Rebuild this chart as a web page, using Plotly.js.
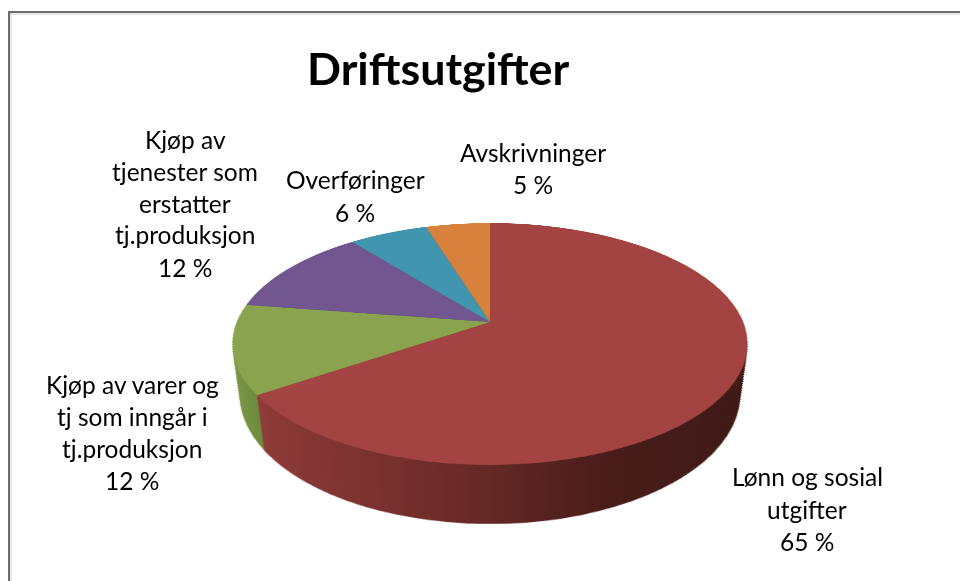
<!DOCTYPE html>
<html><head><meta charset="utf-8">
<script src="https://cdn.plot.ly/plotly-3.0.1.min.js"></script>
<style>html,body{margin:0;padding:0;background:#fff;overflow:hidden}
.svg-container,.main-svg{overflow:visible !important}</style></head>
<body><div id="chart" style="width:960px;height:581px"></div>
<script>
var titleText = 'Driftsutgifter';
var categories = ['Lønn og sosial utgifter','Kjøp av varer og tj som inngår i tj.produksjon','Kjøp av tjenester som erstatter tj.produksjon','Overføringer','Avskrivninger'];
var values = [65.5, 11.9, 11.9, 5.9, 4.8];
var colors = ['#A34442','#89A34E','#71568F','#4295AE','#D7813C'];
var labelLines = [
  ['Lønn og sosial','utgifter','65 %'],
  ['Kjøp av varer og','tj som inngår i','tj.produksjon','12 %'],
  ['Kjøp av','tjenester som','erstatter','tj.produksjon','12 %'],
  ['Overføringer','6 %'],
  ['Avskrivninger','5 %']
];
var W=960,H=581;
var labelX=[807,132,185,355,533], labelY=[477,384,139,180,152], lineStep=32;
// flat pie on the plotly page
var Cx=480,Cy=270,R=250;
// tilt: projective map of the pie plane onto the screen
var X0=490,Y0=322,c=-44/242,B=117,A=253.2;
var layers=60;
var dom={x:[(Cx-R)/W,(Cx+R)/W],y:[(H-Cy-R)/H,(H-Cy+R)/H]};
function pie(){return {type:'pie',values:values,labels:categories,sort:false,direction:'clockwise',rotation:0,
  textinfo:'none',hoverinfo:'label+percent',showlegend:false,domain:dom,marker:{colors:colors,line:{width:0}}};}
var traces=[];
for(var d=0;d<=layers;d++) traces.push(pie());
var ann=[];
labelLines.forEach(function(lines,i){lines.forEach(function(t,j){
  ann.push({xref:'paper',yref:'paper',x:labelX[i]/W,y:1-(labelY[i]+j*lineStep)/H,text:t,showarrow:false,xanchor:'center',yanchor:'middle',
    font:{family:'Lato, Carlito, sans-serif',size:24.5,color:'#000'}});
});});
ann.push({xref:'paper',yref:'paper',x:438/W,y:1-68/H,text:'<b>'+titleText+'</b>',showarrow:false,xanchor:'center',yanchor:'middle',
  font:{family:'Lato, sans-serif',size:44.8,color:'#000'}});
function ln(x0,y0,x1,y1,col,w){return {type:'line',xref:'paper',yref:'paper',x0:x0/W,x1:x1/W,y0:1-y0/H,y1:1-y1/H,line:{color:col,width:w}};}
var layout={width:W,height:H,margin:{l:0,r:0,t:0,b:0},paper_bgcolor:'rgba(0,0,0,0)',annotations:ann,
  shapes:[ln(8,14,960,14,'#d0d0d0',1),ln(11,12,11,581,'#d0d0d0',1),ln(8,12,960,12,'#6b6b6b',2),ln(9,12,9,581,'#6b6b6b',2)]};
Plotly.newPlot('chart',traces,layout,{displayModeBar:false,staticPlot:true}).then(function(gd){
  var svgs=gd.querySelectorAll('svg.main-svg');
  var svg=svgs[0];
  var defs=svg.querySelector('defs');
  function grad(id,x1,x2,stops){
    var ns='http://www.w3.org/2000/svg',g=document.createElementNS(ns,'linearGradient');
    g.setAttribute('id',id);g.setAttribute('gradientUnits','userSpaceOnUse');
    g.setAttribute('x1',x1);g.setAttribute('x2',x2);g.setAttribute('y1',0);g.setAttribute('y2',0);
    stops.forEach(function(s){var e=document.createElementNS(ns,'stop');e.setAttribute('offset',s[0]);e.setAttribute('stop-color',s[1]);g.appendChild(e);});
    defs.appendChild(g);
  }
  grad('sideRed',Cx-0.82*R,Cx+0.99*R,[[0,'#8E3B39'],[0.2265,'#7C3230'],[0.453,'#642826'],[0.68,'#471C19'],[1,'#3F1A17']]);
  grad('sideGreen',Cx-R,Cx-0.82*R,[[0,'#7F9A49'],[1,'#6C8A3C']]);
  function inv(dy){return dy/(B-c*dy);}
  var groups=gd.querySelectorAll('.pielayer .trace');
  groups.forEach(function(g,i){
    if(i>=layers) return;
    var t=1-i/layers;
    var ey=344+51*t, ery=121+8*t, erx=257.5-7.5*t;
    var vt=inv(ey-ery-Y0), vb=inv(ey+ery-Y0);
    var v0=(vt+vb)/2, r=(vb-vt)/2;
    var w=Math.sqrt(Math.pow(1+c*v0,2)-Math.pow(c*r,2));
    var a=erx*w/A;
    g.setAttribute('transform','translate('+Cx+','+(Cy+v0*R)+') scale('+a+','+r+') translate('+(-Cx)+','+(-Cy)+')');
    g.querySelectorAll('.slice path').forEach(function(p,j){
      p.style.fill=j===0?'url(#sideRed)':(j===1?'url(#sideGreen)':'#555');
    });
  });
  var m=[A/R,0,0,0,
         X0*c/R,(Y0*c+B)/R,0,c/R,
         0,0,1,0,
         X0-A*Cx/R-X0*c*Cy/R, Y0-(Y0*c+B)*Cy/R,0,1-c*Cy/R];
  svg.style.transformOrigin='0 0';
  svg.style.transform='matrix3d('+m.join(',')+')';
});
</script></body></html>
